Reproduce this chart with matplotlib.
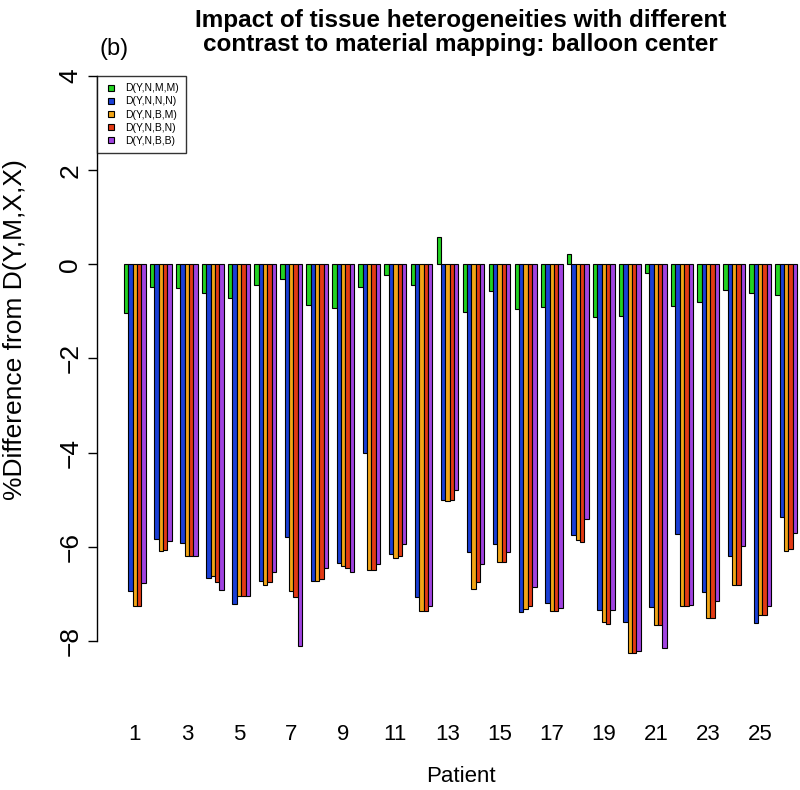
import numpy as np
import matplotlib.pyplot as plt
from matplotlib.lines import Line2D

plt.rcParams['font.family'] = ['Liberation Sans', 'DejaVu Sans']

# Values (one list per scheme, 26 patients)
patients = list(range(1, 27))
series_names = ["D(Y,N,M,M)", "D(Y,N,N,N)", "D(Y,N,B,M)", "D(Y,N,B,N)", "D(Y,N,B,B)"]
colors = ["#22d322", "#1a3fd6", "#f2a516", "#e23a14", "#a043e0"]

d_ynmm = [-1.03, -0.48, -0.50, -0.60, -0.72, -0.45, -0.32, -0.87, -0.93, -0.49,
          -0.23, -0.44, 0.58, -1.01, -0.57, -0.94, -0.90, 0.21, -1.13, -1.10,
          -0.18, -0.89, -0.80, -0.55, -0.61, -0.66]
d_ynnn = [-6.95, -5.84, -5.92, -6.67, -7.22, -6.72, -5.79, -6.72, -6.35, -4.00,
          -6.16, -7.07, -5.00, -6.12, -5.94, -7.39, -7.20, -5.75, -7.34, -7.60,
          -7.28, -5.74, -6.96, -6.20, -7.62, -5.38]
d_ynbm = [-7.27, -6.10, -6.19, -6.62, -7.04, -6.82, -6.95, -6.72, -6.42, -6.49,
          -6.24, -7.36, -5.04, -6.89, -6.33, -7.32, -7.36, -5.85, -7.60, -8.26,
          -7.66, -7.27, -7.52, -6.81, -7.46, -6.09]
d_ynbn = [-7.27, -6.06, -6.19, -6.74, -7.04, -6.76, -7.06, -6.68, -6.45, -6.49,
          -6.19, -7.36, -5.00, -6.75, -6.33, -7.25, -7.36, -5.90, -7.65, -8.26,
          -7.66, -7.27, -7.52, -6.81, -7.46, -6.05]
d_ynbb = [-6.77, -5.87, -6.19, -6.91, -7.04, -6.53, -8.10, -6.45, -6.53, -6.37,
          -5.94, -7.26, -4.80, -6.37, -6.12, -6.86, -7.30, -5.42, -7.34, -8.22,
          -8.16, -7.23, -7.16, -5.99, -7.27, -5.71]

series = [d_ynmm, d_ynnn, d_ynbm, d_ynbn, d_ynbb]

fig = plt.figure(figsize=(8, 7.9), dpi=100)
# plot region runs past the right edge, as in the (cropped) reference
ax = fig.add_axes([97 / 800, 1 - 702 / 790, 727 / 800, 626 / 790])

n = len(patients)
group_start = 1 + 6 * np.arange(n)
for j, vals in enumerate(series):
    ax.bar(group_start + j, vals, width=1.0, align='edge', color=colors[j],
           edgecolor='black', linewidth=0.8)

ax.set_xlim(1 - 0.04 * 155, 156 + 0.04 * 155)
ax.set_ylim(-9.3, 4)

for s in ['top', 'right', 'bottom']:
    ax.spines[s].set_visible(False)
ax.spines['left'].set_bounds(-8, 4)
ax.spines['left'].set_linewidth(1.0)

ax.set_yticks(np.arange(-8, 5, 2))
ax.tick_params(axis='y', length=6.5, width=1.0, labelsize=19, pad=4)
for lab in ax.get_yticklabels():
    lab.set_rotation(90)
    lab.set_va('center')

centers = group_start + 2.5
ax.set_xticks(centers[::2])
ax.set_xticklabels([str(p) for p in patients[::2]])
ax.tick_params(axis='x', length=0, labelsize=16, pad=16)

fig.text(461 / 800, 1 - 777 / 790, "Patient", ha='center', va='center', fontsize=16)
fig.text(15 / 800, 1 - 330 / 790, "%Difference from D(Y,M,X,X)",
         rotation=90, ha='center', va='center', fontsize=19)

ax.set_title("Impact of tissue heterogeneities with different\n"
             "contrast to material mapping: balloon center",
             fontsize=17.5, fontweight='bold', pad=18, linespacing=1.05)
fig.text(114 / 800, 1 - 49 / 790, "(b)", ha='center', va='center', fontsize=17)

handles = [Line2D([], [], marker='s', ls='', markersize=4.5,
                  markerfacecolor=c, markeredgecolor='black', markeredgewidth=0.8)
           for c in colors]
leg = ax.legend(handles, series_names, loc='upper left', bbox_to_anchor=(0, 1),
                borderaxespad=0, fontsize=7.5, frameon=True, fancybox=False,
                borderpad=0.7, labelspacing=0.3, handlelength=1.2,
                handletextpad=0.8)
leg.get_frame().set_edgecolor('black')
leg.get_frame().set_linewidth(1.0)

plt.savefig("out.png", dpi=100)
